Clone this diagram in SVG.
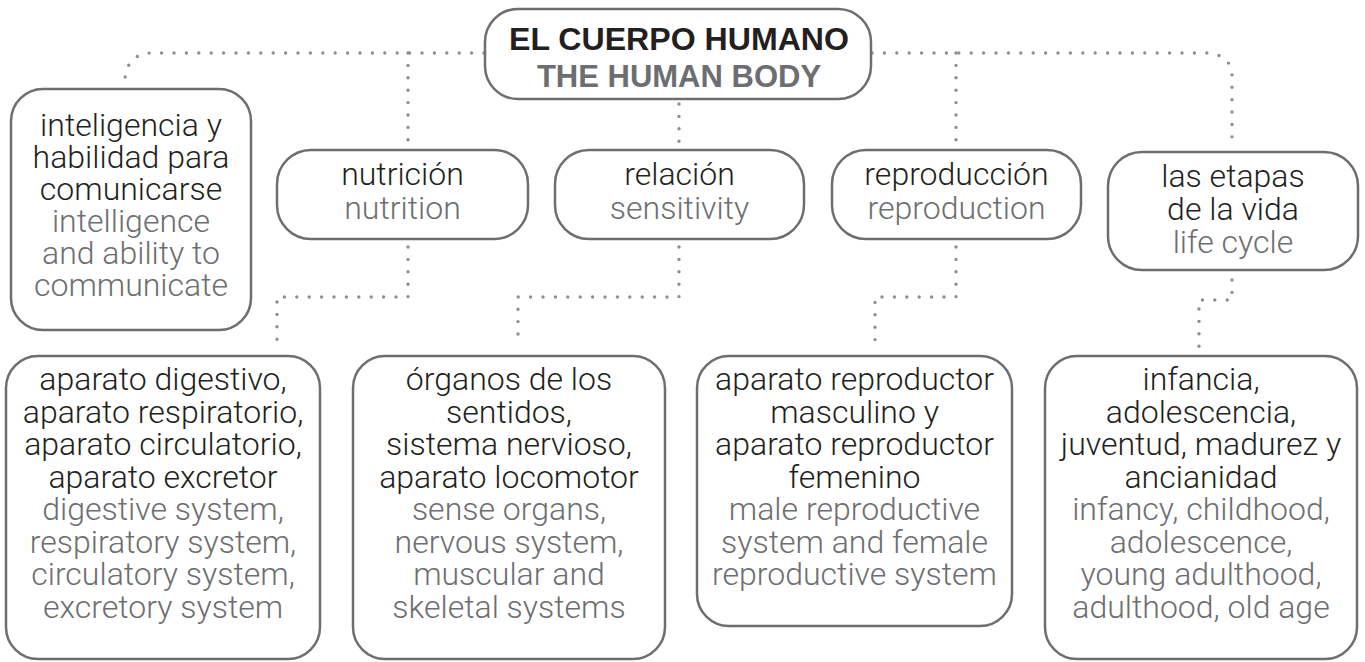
<svg xmlns="http://www.w3.org/2000/svg" width="1365" height="662" viewBox="0 0 1365 662">
<style>
.box{fill:#fff;stroke:#6d6e71;stroke-width:2.5}
.dot{fill:none;stroke:#8d8e90;stroke-width:3.4;stroke-linecap:round;stroke-dasharray:0 12.4}
text{font-family:Roboto,"Liberation Sans",Arial,sans-serif;font-weight:300;font-size:32px;text-anchor:middle}
.es{fill:#231f20}
.en{fill:#6d6e71}
.t1{font-family:"Liberation Sans",Arial,sans-serif;font-size:31px;font-weight:bold;fill:#231f20}
.t2{font-family:"Liberation Sans",Arial,sans-serif;font-size:31px;font-weight:bold;fill:#6d6e71}
</style>
<rect width="1365" height="662" fill="#fff"/>
<g id="connectors">
<path class="dot" d="M484,53 H152 C135,53 125,64 125,81"/>
<path class="dot" d="M408,53 V147"/>
<path class="dot" d="M872,53 H1205 C1222,53 1232,62 1232,75 V143"/>
<path class="dot" d="M956,53 V147"/>
<path class="dot" d="M679,104 V148"/>
<path class="dot" d="M408,247 V297 H277 V346"/>
<path class="dot" d="M679,247 V297 H518 V346"/>
<path class="dot" d="M956,247 V297 H875 V346"/>
<path class="dot" d="M1232,280 V300 H1199 V348"/>
</g>
<g id="root">
<rect class="box" x="485" y="9" width="386" height="90" rx="33"/>
<text class="t1" x="679" y="50" textLength="340" lengthAdjust="spacingAndGlyphs">EL CUERPO HUMANO</text>
<text class="t2" x="679" y="87">THE HUMAN BODY</text>
</g>
<g id="inteligencia">
<rect class="box" x="11" y="89" width="240" height="241" rx="32"/>
<text class="es" x="131" y="136">inteligencia y</text>
<text class="es" x="131" y="168">habilidad para</text>
<text class="es" x="131" y="200">comunicarse</text>
<text class="en" x="131" y="232">intelligence</text>
<text class="en" x="131" y="264">and ability to</text>
<text class="en" x="131" y="296">communicate</text>
</g>
<g id="nutricion">
<rect class="box" x="277" y="150" width="251" height="89" rx="34"/>
<text class="es" x="402.5" y="185">nutrición</text>
<text class="en" x="402.5" y="219">nutrition</text>
</g>
<g id="relacion">
<rect class="box" x="555" y="150" width="249" height="89" rx="34"/>
<text class="es" x="679.5" y="185">relación</text>
<text class="en" x="679.5" y="219">sensitivity</text>
</g>
<g id="reproduccion">
<rect class="box" x="832" y="150" width="249" height="89" rx="34"/>
<text class="es" x="956.5" y="185">reproducción</text>
<text class="en" x="956.5" y="219">reproduction</text>
</g>
<g id="etapas">
<rect class="box" x="1108" y="152" width="250" height="118" rx="34"/>
<text class="es" x="1233" y="187">las etapas</text>
<text class="es" x="1233" y="220">de la vida</text>
<text class="en" x="1233" y="253">life cycle</text>
</g>
<g id="aparatos">
<rect class="box" x="6" y="356" width="314" height="303" rx="32"/>
<text class="es" x="163" y="390">aparato digestivo,</text>
<text class="es" x="163" y="422.5">aparato respiratorio,</text>
<text class="es" x="163" y="455">aparato circulatorio,</text>
<text class="es" x="163" y="487.5">aparato excretor</text>
<text class="en" x="163" y="520">digestive system,</text>
<text class="en" x="163" y="552.5">respiratory system,</text>
<text class="en" x="163" y="585">circulatory system,</text>
<text class="en" x="163" y="617.5">excretory system</text>
</g>
<g id="organos">
<rect class="box" x="353" y="356" width="312" height="303" rx="32"/>
<text class="es" x="509" y="390">órganos de los</text>
<text class="es" x="509" y="422.5">sentidos,</text>
<text class="es" x="509" y="455">sistema nervioso,</text>
<text class="es" x="509" y="487.5">aparato locomotor</text>
<text class="en" x="509" y="520">sense organs,</text>
<text class="en" x="509" y="552.5">nervous system,</text>
<text class="en" x="509" y="585">muscular and</text>
<text class="en" x="509" y="617.5">skeletal systems</text>
</g>
<g id="reproductor">
<rect class="box" x="697" y="356" width="315" height="270" rx="32"/>
<text class="es" x="854.5" y="390">aparato reproductor</text>
<text class="es" x="854.5" y="422.5">masculino y</text>
<text class="es" x="854.5" y="455">aparato reproductor</text>
<text class="es" x="854.5" y="487.5">femenino</text>
<text class="en" x="854.5" y="520">male reproductive</text>
<text class="en" x="854.5" y="552.5">system and female</text>
<text class="en" x="854.5" y="585">reproductive system</text>
</g>
<g id="etapas-vida">
<rect class="box" x="1045" y="356" width="312" height="303" rx="32"/>
<text class="es" x="1201" y="390">infancia,</text>
<text class="es" x="1201" y="422.5">adolescencia,</text>
<text class="es" x="1201" y="455">juventud, madurez y</text>
<text class="es" x="1201" y="487.5">ancianidad</text>
<text class="en" x="1201" y="520">infancy, childhood,</text>
<text class="en" x="1201" y="552.5">adolescence,</text>
<text class="en" x="1201" y="585">young adulthood,</text>
<text class="en" x="1201" y="617.5">adulthood, old age</text>
</g>
</svg>
